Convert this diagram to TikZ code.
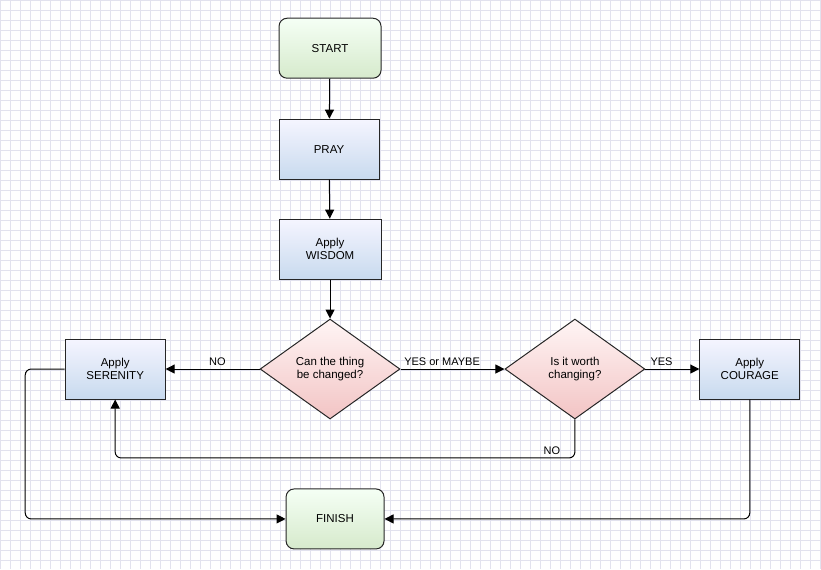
\documentclass[tikz,border=0pt]{standalone}
\usepackage{fontspec}
\setmainfont{Liberation Sans}
\usetikzlibrary{shapes.geometric,arrows.meta}
\definecolor{gridc}{RGB}{226,226,238}
\definecolor{blueb}{RGB}{200,218,238}
\definecolor{greenb}{RGB}{214,234,204}
\definecolor{redb}{RGB}{242,196,196}
\begin{document}
\begin{tikzpicture}[x=1pt,y=-1pt,
  font=\fontsize{11.5}{13.5}\selectfont,
  base/.style={draw=black!85,line width=1pt,minimum width=100pt,minimum height=60pt,align=center,inner sep=1pt},
  proc/.style={base,rectangle,top color=blue!4!white,bottom color=blueb},
  term/.style={base,rectangle,rounded corners=8pt,top color=green!4!white,bottom color=greenb},
  dec/.style={base,diamond,aspect=1.4,minimum width=140pt,minimum height=100pt,inner sep=0pt,top color=red!4!white,bottom color=redb},
  arr/.style={-{Triangle[length=9pt,width=9pt]},line width=1pt,rounded corners=6pt},
  lbl/.style={font=\fontsize{11}{13}\selectfont}]
\fill[white] (0,0) rectangle (821,569);
\foreach \i in {0,10,...,820} \draw[gridc,line width=0.5pt] (\i,0) -- (\i,569);
\foreach \j in {0,10,...,560} \draw[gridc,line width=0.5pt] (0,\j) -- (821,\j);
\useasboundingbox (0,0) rectangle (821,569);
\node[term,minimum width=102pt] (start) at (330,48) {START};
\node[proc] (pray) at (329,149) {PRAY};
\node[proc,minimum width=102pt] (wis) at (330,249) {Apply\\WISDOM};
\node[dec] (d1) at (330,369) {Can the thing\\be changed?};
\node[dec] (d2) at (575,369) {Is it worth\\changing?};
\node[proc] (ser) at (115,369) {Apply\\SERENITY};
\node[proc] (cou) at (750,369) {Apply\\COURAGE};
\node[term,minimum width=98pt] (fin) at (335,519) {FINISH};
\draw[arr] (start) -- (pray);
\draw[arr] (pray) -- (wis);
\draw[arr] (wis) -- (d1);
\draw[arr] (d1) -- node[lbl,above,pos=0.45]{NO} (ser);
\draw[arr] (d1) -- node[lbl,above,pos=0.4]{YES or MAYBE} (d2);
\draw[arr] (d2) -- node[lbl,above,pos=0.3]{YES} (cou);
\draw[arr] (d2.south) -- (575,458) -- node[lbl,above,pos=0.05]{NO} (115,458) -- (ser.south);
\draw[arr] (ser.west) -- (25,369) -- (25,519) -- (fin.west);
\draw[arr] (cou.south) -- (750,519) -- (fin.east);
\end{tikzpicture}
\end{document}
